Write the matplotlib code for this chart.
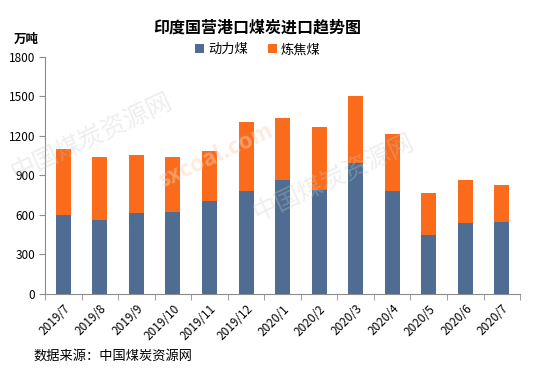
import numpy as np
import matplotlib.pyplot as plt

plt.rcParams['font.family'] = ['Noto Sans CJK SC', 'DejaVu Sans']

months = ['2019/7', '2019/8', '2019/9', '2019/10', '2019/11', '2019/12',
          '2020/1', '2020/2', '2020/3', '2020/4', '2020/5', '2020/6', '2020/7']
thermal = [600, 562, 615, 625, 706, 782, 868, 792, 995, 782, 448, 539, 549]
total = [1101, 1040, 1056, 1040, 1086, 1306, 1337, 1268, 1504, 1215, 767, 866, 828]
coking = [t - d for t, d in zip(total, thermal)]

blue = '#4F6D92'
orange = '#FA6C1B'
gray = '#8C8C8C'

fig = plt.figure(figsize=(5.39, 3.72), dpi=100)
ax = fig.add_axes([0.0835, 0.2097, 0.8815, 0.6373])

# faint watermark
fig.text(0.17, 0.63, '中国煤炭资源网', fontsize=18, color='#C8C8C8', alpha=0.3,
         rotation=25, ha='center', va='center')
fig.text(0.62, 0.52, '中国煤炭资源网', fontsize=18, color='#C8C8C8', alpha=0.3,
         rotation=25, ha='center', va='center')
fig.text(0.40, 0.58, 'sxcoal.com', fontsize=16, color='#FBD3B8', alpha=0.45,
         rotation=25, ha='center', va='center', fontweight='bold')

x = np.arange(len(months))
ax.bar(x, thermal, width=0.41, color=blue, label='动力煤', zorder=3)
ax.bar(x, coking, width=0.41, bottom=thermal, color=orange, label='炼焦煤', zorder=3)

ax.set_xlim(-0.5, len(months) - 0.5)
ax.set_ylim(0, 1800)
ax.set_yticks(range(0, 1801, 300))
ax.tick_params(axis='y', labelsize=8.5, length=4, color=gray, pad=3)

ax.set_xticks(x)
ax.set_xticklabels(months, rotation=45, ha='right', va='top',
                   rotation_mode='anchor', fontsize=8.5)
ax.set_xticks(np.arange(-0.5, len(months), 1), minor=True)
ax.tick_params(axis='x', which='major', length=0, pad=6)
ax.tick_params(axis='x', which='minor', length=4, color=gray)

for s in ['top', 'right']:
    ax.spines[s].set_visible(False)
for s in ['left', 'bottom']:
    ax.spines[s].set_color(gray)

fig.text(0.477, 0.927, '印度国营港口煤炭进口趋势图', fontsize=11.5, fontweight='bold',
         ha='center', va='center')
fig.text(0.049, 0.895, '万吨', fontsize=9, fontweight='bold', ha='center', va='center')
fig.text(0.063, 0.042, '数据来源：中国煤炭资源网', fontsize=9.5, ha='left', va='center')

ax.legend(loc='center', bbox_to_anchor=(0.448, 1.03), ncol=2, frameon=False,
          fontsize=9.5, handlelength=0.7, handleheight=0.7, handletextpad=0.3,
          columnspacing=1.5)

fig.savefig('out.png', dpi=100)
